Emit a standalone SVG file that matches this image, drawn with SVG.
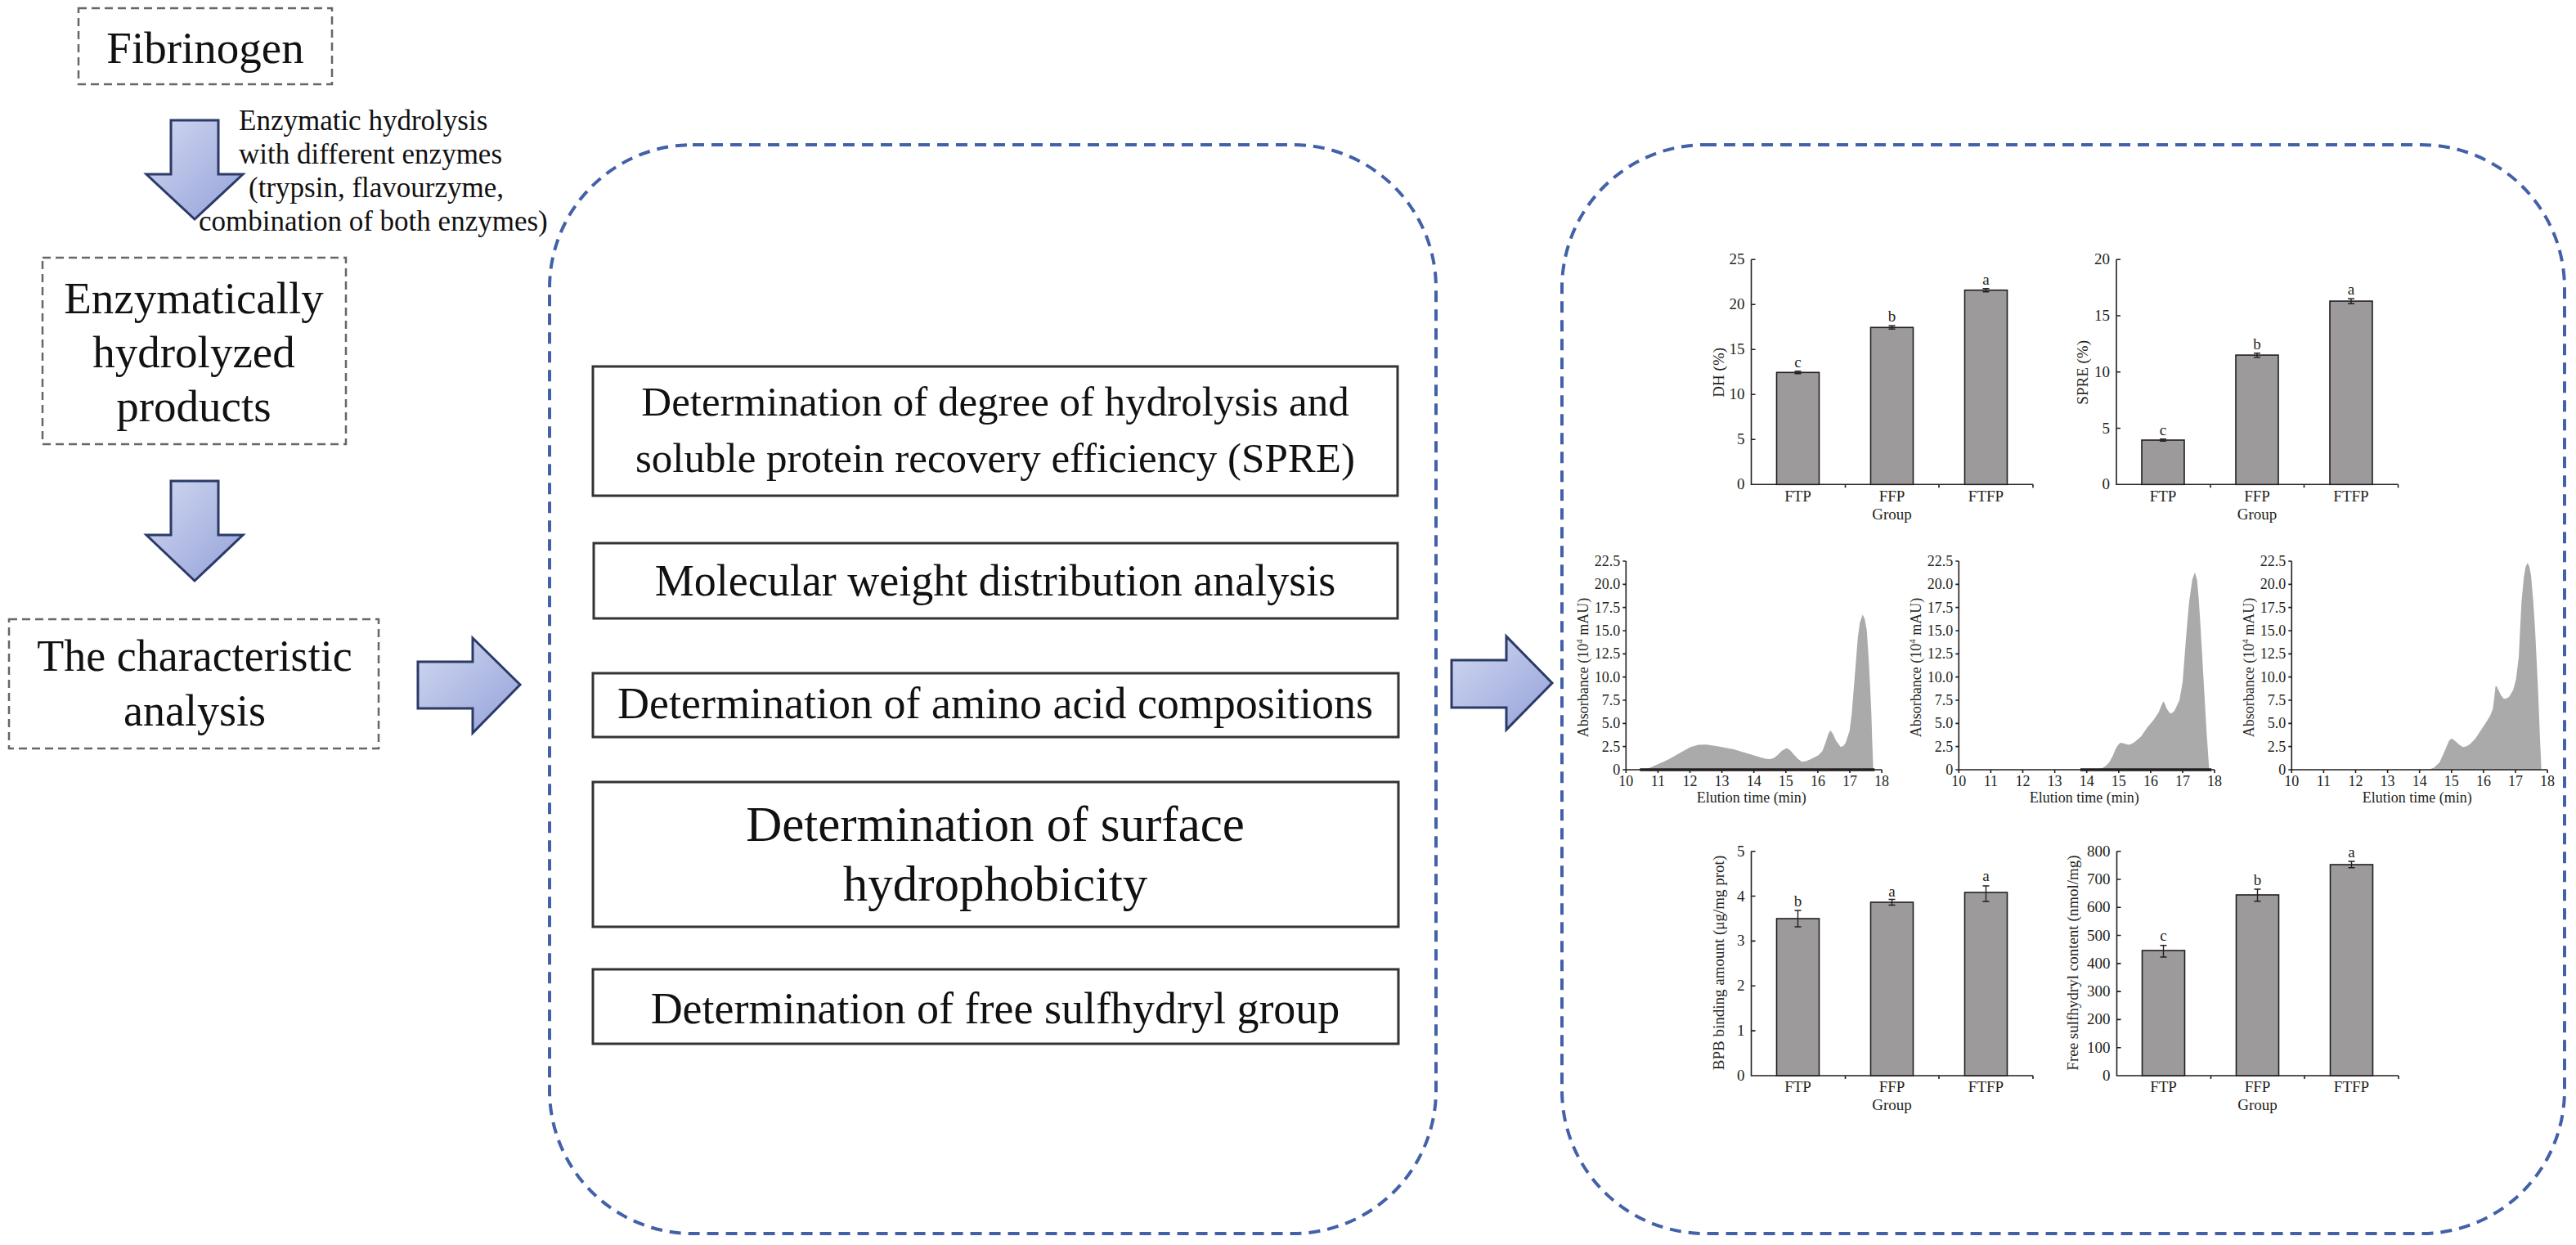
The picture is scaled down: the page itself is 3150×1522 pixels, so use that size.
<svg xmlns="http://www.w3.org/2000/svg" width="3150" height="1522" viewBox="0 0 3150 1522">
<defs>
<linearGradient id="ag" x1="0" y1="0" x2="1" y2="1">
<stop offset="0" stop-color="#d3d9f1"/>
<stop offset="1" stop-color="#93a1d9"/>
</linearGradient>
<style>
.t{font-family:"Liberation Serif","Times New Roman",serif;fill:#111}
.c{font-family:"Liberation Serif","Times New Roman",serif;fill:#231f20}
.gbox{fill:none;stroke:#666;stroke-width:2.5;stroke-dasharray:10 6}
.bbox{fill:none;stroke:#4361a9;stroke-width:4;stroke-dasharray:14 9}
.mbox{fill:#fff;stroke:#333;stroke-width:3}
.arr{fill:url(#ag);stroke:#2b3a68;stroke-width:3;stroke-linejoin:miter}
.ax{fill:none;stroke:#231f20;stroke-width:1.6}
.bar{fill:#9c9a9b;stroke:#231f20;stroke-width:1.6}
.err{fill:none;stroke:#231f20;stroke-width:1.4}
.area{fill:#aaaaaa}
.base{stroke:#231f20;stroke-width:3.5}
.tk{font-size:19px}
.tks{font-size:18px}
</style>
</defs>
<rect width="3150" height="1522" fill="#fff"/>

<g id="connectors">
<polygon class="arr" points="209,147 267,147 267,213 297,213 238,268 179,213 209,213"/>
<polygon class="arr" points="209,588 267,588 267,654 297,654 238,710 179,654 209,654"/>
<polygon class="arr" points="511,809 578,809 578,780 636,837 578,896 578,866 511,866"/>
<polygon class="arr" points="1775,807 1842,807 1842,778 1898,835 1842,892 1842,865 1775,865"/>
<g class="t" font-size="35">
<text x="292" y="159">Enzymatic hydrolysis</text>
<text x="292" y="200">with different enzymes</text>
<text x="304" y="241">(trypsin, flavourzyme,</text>
<text x="243" y="282">combination of both enzymes)</text>
</g>
</g>

<g id="fibrinogen">
<rect class="gbox" x="96" y="10" width="310" height="93"/>
<text class="t" x="251" y="77" font-size="55" text-anchor="middle">Fibrinogen</text>
</g>

<g id="hydrolyzed-products">
<rect class="gbox" x="52" y="315" width="371" height="228"/>
<text class="t" font-size="55" text-anchor="middle"><tspan x="237" y="383">Enzymatically</tspan><tspan x="237" y="449">hydrolyzed</tspan><tspan x="237" y="515">products</tspan></text>
</g>

<g id="characteristic-analysis">
<rect class="gbox" x="11" y="757" width="452" height="158"/>
<text class="t" font-size="54" text-anchor="middle"><tspan x="238" y="820">The characteristic</tspan><tspan x="238" y="887">analysis</tspan></text>
</g>

<g id="methods">
<rect class="bbox" x="672" y="177" width="1084" height="1331" rx="175" ry="175"/>
<g id="m-dh">
<rect class="mbox" x="725" y="448" width="984" height="158"/>
<text class="t" font-size="51" text-anchor="middle"><tspan x="1217" y="508">Determination of degree of hydrolysis and</tspan><tspan x="1217" y="577">soluble protein recovery efficiency (SPRE)</tspan></text>
</g>
<g id="m-mw">
<rect class="mbox" x="726" y="664" width="983" height="92"/>
<text class="t" x="1217" y="728" font-size="54" text-anchor="middle">Molecular weight distribution analysis</text>
</g>
<g id="m-aa">
<rect class="mbox" x="725" y="823" width="985" height="78"/>
<text class="t" x="1217" y="878" font-size="54" text-anchor="middle">Determination of amino acid compositions</text>
</g>
<g id="m-sh">
<rect class="mbox" x="725" y="956" width="985" height="177"/>
<text class="t" font-size="61" text-anchor="middle"><tspan x="1217" y="1028">Determination of surface</tspan><tspan x="1217" y="1101">hydrophobicity</tspan></text>
</g>
<g id="m-ss">
<rect class="mbox" x="725" y="1185" width="985" height="91"/>
<text class="t" x="1217" y="1251" font-size="54" text-anchor="middle">Determination of free sulfhydryl group</text>
</g>
</g>

<g id="results">
<rect class="bbox" x="1910" y="177" width="1226" height="1331" rx="175" ry="175"/>

<!-- DH chart -->
<g id="chart-dh" transform="translate(2141.5,592.3)">
<path class="ax" d="M0,-275V0H344.5M0,0h5M0,-55h5M0,-110h5M0,-165h5M0,-220h5M0,-275h5M115,0v4M229.5,0v4M344.5,0v4"/>
<rect class="bar" x="31" y="-137" width="52" height="137"/>
<rect class="bar" x="146" y="-192" width="52" height="192"/>
<rect class="bar" x="261" y="-237.6" width="52" height="237.6"/>
<path class="err" d="M57,-138.5v3M53,-138.5h8M53,-135.5h8M172,-194v4M168,-194h8M168,-190h8M287,-239.5v4M283,-239.5h8M283,-235.5h8"/>
<g class="c tk" text-anchor="end">
<text x="-8" y="6">0</text><text x="-8" y="-49">5</text><text x="-8" y="-104">10</text><text x="-8" y="-159">15</text><text x="-8" y="-214">20</text><text x="-8" y="-269">25</text>
</g>
<g class="c tk" text-anchor="middle">
<text x="57" y="-143.3">c</text><text x="172" y="-199.3">b</text><text x="287" y="-244.3">a</text>
<text x="57" y="20.7">FTP</text><text x="172" y="20.7">FFP</text><text x="287" y="20.7">FTFP</text>
<text x="172" y="43">Group</text>
<text transform="translate(-34,-137) rotate(-90)">DH (%)</text>
</g>
</g>

<!-- SPRE chart -->
<g id="chart-spre" transform="translate(2588,592.3)">
<path class="ax" d="M0,-275V0H344.5M0,0h5M0,-68.75h5M0,-137.5h5M0,-206.25h5M0,-275h5M115,0v4M229.5,0v4M344.5,0v4"/>
<rect class="bar" x="31" y="-54.3" width="52" height="54.3"/>
<rect class="bar" x="146" y="-158.2" width="52" height="158.2"/>
<rect class="bar" x="261" y="-224.2" width="52" height="224.2"/>
<path class="err" d="M57,-55.5v2.5M53,-55.5h8M53,-53h8M172,-160.5v5M168,-160.5h8M168,-155.5h8M287,-227v6M283,-227h8M283,-221h8"/>
<g class="c tk" text-anchor="end">
<text x="-8" y="6">0</text><text x="-8" y="-62.75">5</text><text x="-8" y="-131.5">10</text><text x="-8" y="-200.25">15</text><text x="-8" y="-269">20</text>
</g>
<g class="c tk" text-anchor="middle">
<text x="57" y="-60.3">c</text><text x="172" y="-165.3">b</text><text x="287" y="-232.3">a</text>
<text x="57" y="20.7">FTP</text><text x="172" y="20.7">FFP</text><text x="287" y="20.7">FTFP</text>
<text x="172" y="43">Group</text>
<text transform="translate(-35,-137) rotate(-90)">SPRE (%)</text>
</g>
</g>

<!-- Chromatogram 1 -->
<g id="chrom-ftp" transform="translate(1988.3,941)">
<path class="area" d="M19,0 L28.4,-2 L38.4,-6.4 L51.7,-12.4 L65,-20 L78.4,-27.4 L88.4,-30.4 L98.4,-30.7 L111.7,-28.7 L131.7,-25 L148.4,-20 L165,-15 L172,-13.2 L176.7,-13 L181,-14.5 L185,-17.4 L191,-23.5 L196.7,-26.4 L200.5,-24 L205,-19 L210,-13.5 L215,-9.7 L220,-10.5 L225,-12.4 L235,-17.4 L240,-22.4 L244,-33 L247.5,-44 L250,-48 L253,-44 L256.7,-35.7 L262.4,-28 L265.5,-28.8 L268.4,-32.4 L273.4,-47.4 L276,-68 L278.4,-97.4 L281,-130 L283.4,-160.7 L286,-180 L289.4,-189.7 L292,-184 L294.4,-170.7 L296.5,-140 L298.4,-104 L300,-70 L301,-37.4 L302.4,0 Z"/>
<line class="base" x1="17" y1="0" x2="304" y2="0"/>
<path class="ax" d="M0,-255V0H312.8M0,0h-4M0,-28.33h-4M0,-56.67h-4M0,-85h-4M0,-113.33h-4M0,-141.67h-4M0,-170h-4M0,-198.33h-4M0,-226.67h-4M0,-255h-4M0,0v4M39.1,0v4M78.2,0v4M117.3,0v4M156.4,0v4M195.5,0v4M234.6,0v4M273.7,0v4M312.8,0v4"/>
<g class="c tks" text-anchor="end">
<text x="-7" y="6">0</text><text x="-7" y="-22.33">2.5</text><text x="-7" y="-50.67">5.0</text><text x="-7" y="-79">7.5</text><text x="-7" y="-107.33">10.0</text><text x="-7" y="-135.67">12.5</text><text x="-7" y="-164">15.0</text><text x="-7" y="-192.33">17.5</text><text x="-7" y="-220.67">20.0</text><text x="-7" y="-249">22.5</text>
</g>
<g class="c tks" text-anchor="middle">
<text x="0" y="20">10</text><text x="39.1" y="20">11</text><text x="78.2" y="20">12</text><text x="117.3" y="20">13</text><text x="156.4" y="20">14</text><text x="195.5" y="20">15</text><text x="234.6" y="20">16</text><text x="273.7" y="20">17</text><text x="312.8" y="20">18</text>
<text x="153.4" y="39.5">Elution time (min)</text>
<text transform="translate(-46,-125) rotate(-90)">Absorbance (10<tspan dy="-7" font-size="11">4</tspan><tspan dy="7"> mAU)</tspan></text>
</g>
</g>

<!-- Chromatogram 2 -->
<g id="chrom-ffp" transform="translate(2395.3,941)">
<path class="area" d="M168.1,0 L175.95,-2.3 L180,-5 L183.8,-9.1 L187.8,-16 L191.6,-24.9 L194.5,-30 L197.5,-32.9 L200.5,-32.6 L203.3,-31.7 L207.2,-30.6 L211,-31.5 L215.1,-34 L222.9,-40.8 L230.7,-52.1 L238.5,-61.2 L244.4,-70.2 L247.5,-78 L250.2,-83.8 L252.2,-80 L254.2,-74.8 L258.1,-69.1 L261,-69.5 L263.9,-72.5 L269.8,-85 L273.7,-107.6 L277.6,-158.6 L281.5,-203.9 L285.4,-232.3 L288.6,-241.3 L291.3,-232.3 L293.3,-210 L295.2,-181.3 L299.1,-113.3 L303,-45.3 L306.2,0 Z"/>
<line class="base" x1="148.6" y1="0" x2="309" y2="0"/>
<path class="ax" d="M0,-255V0H312.8M0,0h-4M0,-28.33h-4M0,-56.67h-4M0,-85h-4M0,-113.33h-4M0,-141.67h-4M0,-170h-4M0,-198.33h-4M0,-226.67h-4M0,-255h-4M0,0v4M39.1,0v4M78.2,0v4M117.3,0v4M156.4,0v4M195.5,0v4M234.6,0v4M273.7,0v4M312.8,0v4"/>
<g class="c tks" text-anchor="end">
<text x="-7" y="6">0</text><text x="-7" y="-22.33">2.5</text><text x="-7" y="-50.67">5.0</text><text x="-7" y="-79">7.5</text><text x="-7" y="-107.33">10.0</text><text x="-7" y="-135.67">12.5</text><text x="-7" y="-164">15.0</text><text x="-7" y="-192.33">17.5</text><text x="-7" y="-220.67">20.0</text><text x="-7" y="-249">22.5</text>
</g>
<g class="c tks" text-anchor="middle">
<text x="0" y="20">10</text><text x="39.1" y="20">11</text><text x="78.2" y="20">12</text><text x="117.3" y="20">13</text><text x="156.4" y="20">14</text><text x="195.5" y="20">15</text><text x="234.6" y="20">16</text><text x="273.7" y="20">17</text><text x="312.8" y="20">18</text>
<text x="153.4" y="39.5">Elution time (min)</text>
<text transform="translate(-46,-125) rotate(-90)">Absorbance (10<tspan dy="-7" font-size="11">4</tspan><tspan dy="7"> mAU)</tspan></text>
</g>
</g>

<!-- Chromatogram 3 -->
<g id="chrom-ftfp" transform="translate(2802.3,941)">
<path class="area" d="M167.7,0 L174.4,-2.7 L181,-9.3 L187.7,-24.3 L192.7,-36 L196,-38.3 L201,-34.3 L205,-30.5 L209.4,-27.7 L213.5,-28.5 L217.7,-31 L224.4,-37.7 L231,-47.7 L237.7,-57.7 L242.7,-66 L246,-74.3 L248,-90 L249.4,-102.7 L251,-101.5 L252.7,-97.7 L256,-91 L259.4,-86.7 L262.5,-87 L266,-89.3 L271,-97.7 L274.4,-111 L277.7,-137.7 L281,-204.3 L284,-236 L286,-247.7 L288.4,-252.7 L290.5,-249 L292.7,-237.7 L295.5,-205 L297.7,-171 L301,-104.3 L303.7,-37.7 L305.4,0 Z"/>
<path class="ax" d="M0,-255V0H312.8M0,0h-4M0,-28.33h-4M0,-56.67h-4M0,-85h-4M0,-113.33h-4M0,-141.67h-4M0,-170h-4M0,-198.33h-4M0,-226.67h-4M0,-255h-4M0,0v4M39.1,0v4M78.2,0v4M117.3,0v4M156.4,0v4M195.5,0v4M234.6,0v4M273.7,0v4M312.8,0v4"/>
<g class="c tks" text-anchor="end">
<text x="-7" y="6">0</text><text x="-7" y="-22.33">2.5</text><text x="-7" y="-50.67">5.0</text><text x="-7" y="-79">7.5</text><text x="-7" y="-107.33">10.0</text><text x="-7" y="-135.67">12.5</text><text x="-7" y="-164">15.0</text><text x="-7" y="-192.33">17.5</text><text x="-7" y="-220.67">20.0</text><text x="-7" y="-249">22.5</text>
</g>
<g class="c tks" text-anchor="middle">
<text x="0" y="20">10</text><text x="39.1" y="20">11</text><text x="78.2" y="20">12</text><text x="117.3" y="20">13</text><text x="156.4" y="20">14</text><text x="195.5" y="20">15</text><text x="234.6" y="20">16</text><text x="273.7" y="20">17</text><text x="312.8" y="20">18</text>
<text x="153.4" y="39.5">Elution time (min)</text>
<text transform="translate(-46,-125) rotate(-90)">Absorbance (10<tspan dy="-7" font-size="11">4</tspan><tspan dy="7"> mAU)</tspan></text>
</g>
</g>

<!-- BPB chart -->
<g id="chart-bpb" transform="translate(2141.5,1315)">
<path class="ax" d="M0,-274.3V0H344.5M0,0h5M0,-54.86h5M0,-109.72h5M0,-164.58h5M0,-219.44h5M0,-274.3h5M115,0v4M229.5,0v4M344.5,0v4"/>
<rect class="bar" x="31" y="-192" width="52" height="192"/>
<rect class="bar" x="146" y="-212" width="52" height="212"/>
<rect class="bar" x="261" y="-224" width="52" height="224"/>
<path class="err" d="M57,-202v20M53,-202h8M53,-182h8M172,-215.5v7M168,-215.5h8M168,-208.5h8M287,-232v19M283,-232h8M283,-213h8"/>
<g class="c tk" text-anchor="end">
<text x="-8" y="6">0</text><text x="-8" y="-48.86">1</text><text x="-8" y="-103.72">2</text><text x="-8" y="-158.58">3</text><text x="-8" y="-213.44">4</text><text x="-8" y="-268.3">5</text>
</g>
<g class="c tk" text-anchor="middle">
<text x="57" y="-207">b</text><text x="172" y="-219">a</text><text x="287" y="-238">a</text>
<text x="57" y="20">FTP</text><text x="172" y="20">FFP</text><text x="287" y="20">FTFP</text>
<text x="172" y="42">Group</text>
<text transform="translate(-34,-138) rotate(-90)">BPB binding amount (μg/mg prot)</text>
</g>
</g>

<!-- Free SH chart -->
<g id="chart-sh" transform="translate(2588.5,1315)">
<path class="ax" d="M0,-274.3V0H344.5M0,0h5M0,-34.29h5M0,-68.58h5M0,-102.86h5M0,-137.15h5M0,-171.44h5M0,-205.73h5M0,-240.01h5M0,-274.3h5M115,0v4M229.5,0v4M344.5,0v4"/>
<rect class="bar" x="31" y="-153" width="52" height="153"/>
<rect class="bar" x="146" y="-221" width="52" height="221"/>
<rect class="bar" x="261" y="-258" width="52" height="258"/>
<path class="err" d="M57,-159.3v14.3M53,-159.3h8M53,-145h8M172,-228v14.7M168,-228h8M168,-213.3h8M287,-262v7.7M283,-262h8M283,-254.3h8"/>
<g class="c tk" text-anchor="end">
<text x="-8" y="6">0</text><text x="-8" y="-28.29">100</text><text x="-8" y="-62.58">200</text><text x="-8" y="-96.86">300</text><text x="-8" y="-131.15">400</text><text x="-8" y="-165.44">500</text><text x="-8" y="-199.73">600</text><text x="-8" y="-234.01">700</text><text x="-8" y="-268.3">800</text>
</g>
<g class="c tk" text-anchor="middle">
<text x="57" y="-165">c</text><text x="172" y="-233">b</text><text x="287" y="-267">a</text>
<text x="57" y="20">FTP</text><text x="172" y="20">FFP</text><text x="287" y="20">FTFP</text>
<text x="172" y="42">Group</text>
<text transform="translate(-48,-138) rotate(-90)">Free sulfhydryl content (nmol/mg)</text>
</g>
</g>
</g>
</svg>
